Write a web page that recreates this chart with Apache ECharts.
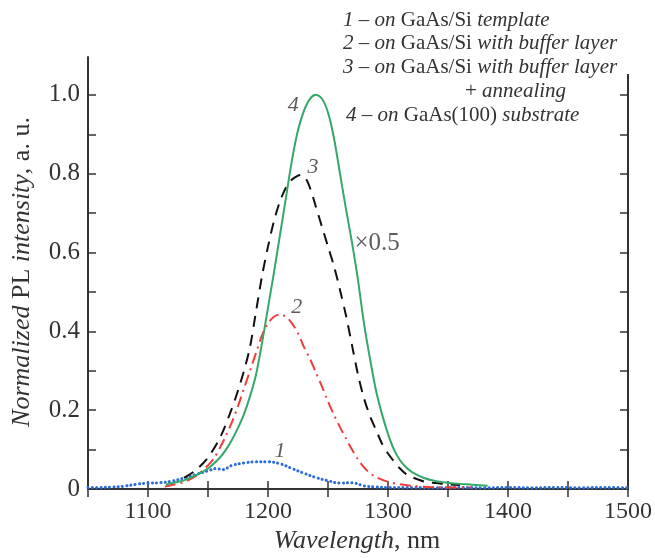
<!DOCTYPE html>
<html><head><meta charset="utf-8">
<script src="https://cdn.jsdelivr.net/npm/echarts@6/dist/echarts.min.js"></script>
<style>html,body{margin:0;padding:0;background:#fff}#c{width:655px;height:558px}</style>
</head><body><div id="c"></div>
<script>
// Curve 1 – on GaAs/Si template (blue dotted)
const wl1 = [1050,1060,1070,1080,1090,1100,1110,1120,1130,1140,1150,1157,1162,1170,1180,1190,1200,1210,1220,1230,1240,1250,1260,1270,1280,1290,1300,1320,1340,1360,1380,1400,1420,1440,1460,1480,1500];
const pl1 = [0.004,0.004,0.005,0.007,0.012,0.015,0.016,0.020,0.028,0.037,0.046,0.052,0.049,0.060,0.066,0.069,0.069,0.064,0.052,0.040,0.029,0.021,0.015,0.016,0.008,0.005,0.004,0.004,0.003,0.004,0.003,0.004,0.003,0.004,0.003,0.004,0.003];
// Curve 2 – with buffer layer (red dash-dot)
const wl2 = [1114,1120,1130,1140,1150,1155,1160,1165,1170,1175,1180,1185,1190,1195,1200,1205,1210,1215,1220,1225,1230,1235,1240,1245,1250,1255,1260,1265,1270,1275,1280,1285,1290,1300,1310,1320,1335,1350,1370];
const pl2 = [0.006,0.010,0.018,0.033,0.060,0.078,0.105,0.135,0.170,0.210,0.255,0.300,0.345,0.390,0.420,0.437,0.443,0.437,0.420,0.395,0.360,0.330,0.295,0.260,0.222,0.188,0.157,0.128,0.100,0.075,0.055,0.040,0.030,0.018,0.012,0.008,0.005,0.004,0.004];
// Curve 3 – with buffer layer + annealing (black dashed)
const wl3 = [1130,1140,1150,1160,1170,1175,1180,1185,1190,1195,1200,1205,1210,1215,1220,1225,1228,1232,1236,1240,1245,1250,1255,1260,1265,1270,1275,1280,1285,1290,1295,1300,1305,1310,1315,1320,1330,1340,1350,1360];
const pl3 = [0.028,0.048,0.080,0.130,0.205,0.250,0.300,0.360,0.450,0.540,0.615,0.680,0.730,0.765,0.785,0.795,0.797,0.785,0.755,0.715,0.665,0.615,0.565,0.505,0.440,0.365,0.290,0.230,0.185,0.150,0.115,0.090,0.070,0.052,0.038,0.030,0.019,0.015,0.012,0.010];
// Curve 4 – on GaAs(100) substrate (green solid)
const wl4 = [1115,1120,1130,1140,1150,1160,1165,1170,1175,1180,1185,1190,1195,1200,1205,1210,1215,1220,1225,1230,1235,1240,1245,1250,1255,1260,1265,1270,1275,1280,1285,1290,1295,1300,1305,1310,1315,1320,1330,1340,1350,1360,1370,1383];
const pl4 = [0.011,0.015,0.022,0.035,0.052,0.080,0.100,0.125,0.155,0.190,0.235,0.290,0.370,0.460,0.550,0.645,0.740,0.835,0.910,0.960,0.990,1.000,0.990,0.955,0.890,0.800,0.710,0.625,0.530,0.420,0.330,0.250,0.190,0.140,0.100,0.073,0.055,0.043,0.028,0.020,0.016,0.013,0.011,0.008];

// Curve annotations [text, wavelength, intensity]
const notes = [['4',1221,0.974],['3',1237.5,0.817],['2',1224,0.462],['1',1210,0.097]];
const scaleNote = ['×0.5',1272,0.624];

const legendLines = [
  '{i|1 – on }{n|GaAs/Si }{i|template}',
  '{i|2 – on }{n|GaAs/Si }{i|with buffer layer}',
  '{i|3 – on }{n|GaAs/Si }{i|with buffer layer}',
  '{n|+ }{i|annealing}',
  '{i|4 – on }{n|GaAs(100) }{i|substrate}'
];

const serif = '"Liberation Serif","DejaVu Serif",serif';
const ink = '#333';
const zip = (a,b) => a.map((v,i)=>[v,b[i]]);

const chart = echarts.init(document.getElementById('c'));
const axisLine = {show:true, lineStyle:{color:ink, width:2}};
const baseX = {type:'value', min:1050, max:1500, interval:50, gridIndex:0, splitLine:{show:false}, axisLine:axisLine,
  axisTick:{inside:true, length:8, lineStyle:{color:ink, width:1.5}}};
const baseY = {type:'value', min:0, max:1.096, interval:0.1, gridIndex:0, splitLine:{show:false}, axisLine:axisLine,
  axisTick:{inside:true, length:8, lineStyle:{color:ink, width:1.5}}};

const LF = 21;
const richStyles = {
  i:{fontFamily:serif, fontStyle:'italic', fontSize:LF, fill:ink, color:ink},
  n:{fontFamily:serif, fontSize:LF, fill:ink, color:ink}
};
const legendY = [20, 43, 67, 91, 115];
const legendX = [343, 343, 343, 465, 346];

const graphics = [
  {type:'rect', z:100, shape:{x:327, y:0, width:328, height:74}, style:{fill:'#fff'}}
];
legendLines.forEach((t,i)=>{
  graphics.push({type:'text', z:101, x:legendX[i], y:legendY[i],
    style:{text:t, rich:richStyles, align:'left', verticalAlign:'middle', font:LF+'px '+serif, fill:ink}});
});
const AF = 26;
graphics.push({type:'text', z:101, x:357, y:541,
  style:{text:'{i|Wavelength}{n|, nm}', align:'center', verticalAlign:'middle', fill:ink,
    rich:{i:{fontFamily:serif, fontStyle:'italic', fontSize:AF, fill:ink}, n:{fontFamily:serif, fontSize:AF, fill:ink}}}});
graphics.push({type:'text', z:101, x:22, y:272, rotation:Math.PI/2,
  style:{text:'{i|Normalized }{n|PL }{i|intensity}{n|, a. u.}', align:'center', verticalAlign:'middle', fill:ink,
    rich:{i:{fontFamily:serif, fontStyle:'italic', fontSize:AF, fill:ink}, n:{fontFamily:serif, fontSize:AF, fill:ink}}}});

const noteData = notes.map(n=>({value:[n[1],n[2]], name:n[0],
  label:{show:true, position:'inside', formatter:n[0], fontFamily:serif, fontStyle:'italic', fontSize:22, color:ink}}));
noteData.push({value:[scaleNote[1],scaleNote[2]], name:scaleNote[0],
  label:{show:true, position:'right', distance:0, formatter:scaleNote[0], fontFamily:serif, fontSize:25, color:ink}});

chart.setOption({
  animation:false,
  backgroundColor:'#fff',
  grid:{left:88, top:57, width:540, height:432, containLabel:false},
  xAxis:[
    Object.assign({}, baseX, {position:'bottom',
      axisLabel:{show:true, margin:11, fontFamily:serif, fontSize:24, color:ink,
        formatter:v=> (Math.round(v)%100===0 ? String(Math.round(v)) : '')}}),
    Object.assign({}, baseX, {position:'top', axisLabel:{show:false}})
  ],
  yAxis:[
    Object.assign({}, baseY, {position:'left',
      axisLabel:{show:true, margin:8, fontFamily:serif, fontSize:25, color:ink, showMaxLabel:false,
        formatter:v=>{const r=Math.round(v*10); if(Math.abs(v*10-r)>1e-6||r%2) return ''; return r===0?'0':(r/10).toFixed(1);}}}),
    Object.assign({}, baseY, {position:'right', axisLabel:{show:false}})
  ],
  series:[
    {type:'line', name:'1', data:zip(wl1,pl1), showSymbol:false, smooth:0.4, z:3,
      lineStyle:{color:'#2a6be0', width:3, type:[0.1,4.2], cap:'round'}},
    {type:'line', name:'2', data:zip(wl2,pl2), showSymbol:false, smooth:0.3, z:4,
      lineStyle:{color:'#f03c3c', width:2, type:[11,5,2,5]}},
    {type:'line', name:'3', data:zip(wl3,pl3), showSymbol:false, smooth:0.3, z:5,
      lineStyle:{color:'#111', width:2, type:[11,8]}},
    {type:'line', name:'4', data:zip(wl4,pl4), showSymbol:false, smooth:0.3, z:6,
      lineStyle:{color:'#35a868', width:2, type:'solid'}},
    {type:'scatter', name:'notes', data:noteData, symbolSize:0, z:7, silent:true}
  ],
  graphic:graphics
});
</script></body></html>
